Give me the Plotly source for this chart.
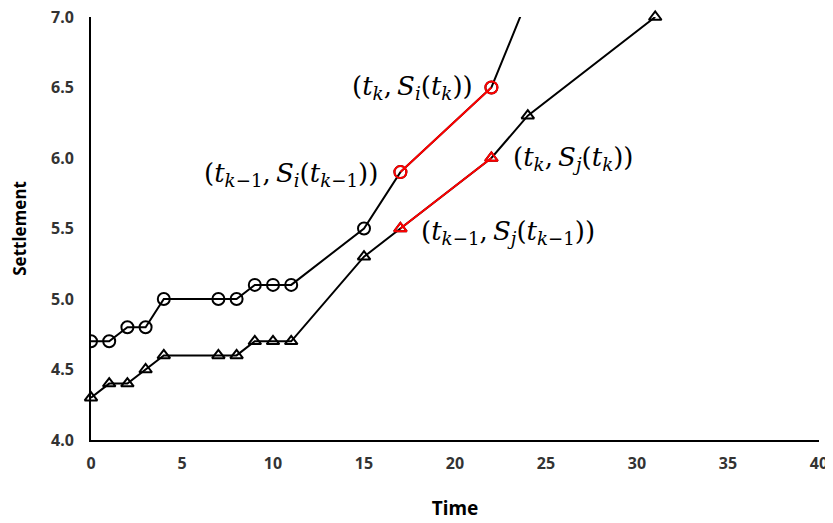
import plotly.graph_objects as go

time_i = [0, 1, 2, 3, 4, 7, 8, 9, 10, 11, 15, 17, 22, 25]
settle_i = [4.7, 4.7, 4.8, 4.8, 5.0, 5.0, 5.0, 5.1, 5.1, 5.1, 5.5, 5.9, 6.5, 7.45]
time_j = [0, 1, 2, 3, 4, 7, 8, 9, 10, 11, 15, 17, 22, 24, 31]
settle_j = [4.3, 4.4, 4.4, 4.5, 4.6, 4.6, 4.6, 4.7, 4.7, 4.7, 5.3, 5.5, 6.0, 6.3, 7.0]

red_time = [17, 22]
red_i = [5.9, 6.5]
red_j = [5.5, 6.0]

fig = go.Figure()
fig.add_trace(go.Scatter(x=time_i, y=settle_i, mode="lines+markers",
                         line=dict(color="black", width=2),
                         marker=dict(symbol="circle-open", size=12, color="black", line=dict(width=2))))
fig.add_trace(go.Scatter(x=time_j, y=settle_j, mode="lines+markers", cliponaxis=False,
                         line=dict(color="black", width=2),
                         marker=dict(symbol="triangle-up-open", size=11, color="black", line=dict(width=2))))
fig.add_trace(go.Scatter(x=red_time, y=red_i, mode="lines+markers",
                         line=dict(color="red", width=2),
                         marker=dict(symbol="circle-open", size=12, color="red", line=dict(width=2))))
fig.add_trace(go.Scatter(x=red_time, y=red_j, mode="lines+markers",
                         line=dict(color="red", width=2),
                         marker=dict(symbol="triangle-up-open", size=11, color="red", line=dict(width=2))))

lab_font = dict(family="DejaVu Serif", size=26, color="black")
def lab(x, y, text, xanchor):
    fig.add_annotation(x=x, y=y, xref="x", yref="y", text=text, showarrow=False,
                       xanchor=xanchor, yanchor="middle", font=lab_font)

th = "\u2009"
tk = "<i>t</i><sub><i>k</i></sub>"
tk1 = "<i>t</i><sub><i>k</i>−1</sub>"
si = "<i>S</i><sub><i>i</i></sub>"
sj = "<i>S</i><sub><i>j</i></sub>"
lab(21.1, 6.5, f"({tk},{th}{si}({tk}))", "right")
lab(15.9, 5.88, f"({tk1},{th}{si}({tk1}))", "right")
lab(23.1, 6.0, f"({tk},{th}{sj}({tk}))", "left")
lab(18.0, 5.47, f"({tk1},{th}{sj}({tk1}))", "left")

tick_font = dict(family="Noto Sans", size=16, color="#333333", weight="bold")
fig.update_layout(
    width=825, height=515,
    margin=dict(l=83, r=14, t=9, b=83),
    plot_bgcolor="white", paper_bgcolor="white",
    showlegend=False,
    xaxis=dict(range=[0, 40], dtick=5, showgrid=False, zeroline=False, automargin=False,
               showline=True, linecolor="black", linewidth=2, ticklabeloverflow="allow",
               ticks="outside", ticklen=8, tickcolor="rgba(0,0,0,0)",
               tickfont=tick_font,
               title=dict(text="<b>Time</b>", font=dict(family="Noto Sans", size=19, color="black"), standoff=28)),
    yaxis=dict(range=[4.0, 7.0], dtick=0.5, tickformat=".1f", showgrid=False, zeroline=False, automargin=False,
               showline=True, linecolor="black", linewidth=2, ticklabeloverflow="allow",
               ticks="outside", ticklen=12, tickcolor="rgba(0,0,0,0)",
               tickfont=tick_font,
               title=dict(text="<b>Settlement</b>", font=dict(family="Noto Sans", size=17, color="black"), standoff=22)),
)
fig.write_html("out.html")
